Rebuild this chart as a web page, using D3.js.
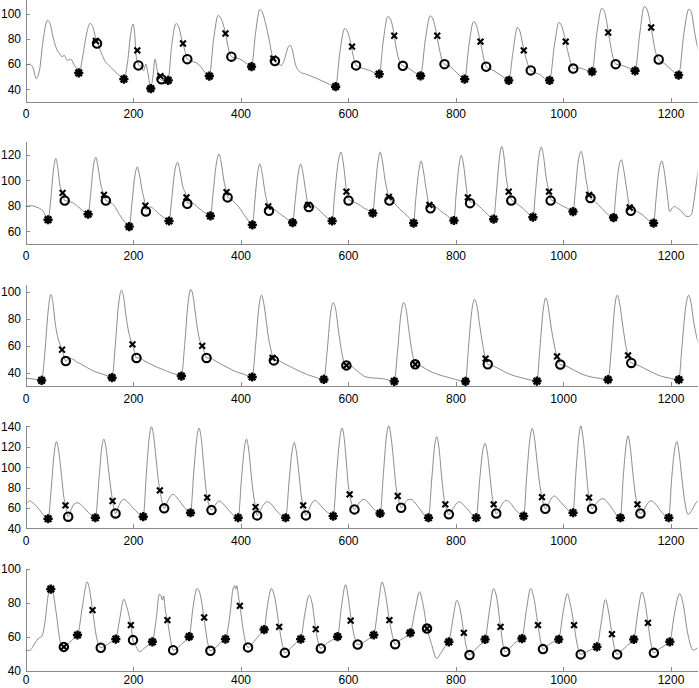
<!DOCTYPE html>
<html>
<head>
<meta charset="utf-8">
<script src="https://cdn.jsdelivr.net/npm/d3@7"></script>
<style>
  body { margin: 0; background: #fff; }
  svg { display: block; }
</style>
</head>
<body>
<svg width="699" height="688"></svg>
<script>
// sample index axis
const xTicks = [0, 200, 400, 600, 800, 1000, 1200]

// ---- panel 1 ----
const wave1 = [[0,59],[8,60],[14,57],[20,48.5],[26,55],[33,80],[41,95],[46,92],[51,82],[58,72],[64,68],[68,66],[72,67],[78,63],[84,64],[90,60],[96,56],[100,53],
  [106,65],[114,85],[120,92.5],[125,90],[130,82],[135,76],[140,70],[146,64],[160,57],[172,52],[183,48],
  [190,62],[196,85],[200,92],[203,85],[206,66],[210,60],[214,58],[220,55],[224,60],[228,52],[233,41],[237,50],[241,64],[245,55],[250,48],[255,47],[260,48],[265,47],[272,75],[280,92.5],
  [285,90],[290,81],[293,76],[297,70],[301,64],[306,63],[312,62],[318,61],[324,59],[333,54],[342,50.5],
  [350,80],[358.5,99],[363,97],[369,90],[374,80],[380,68.5],[385,65.5],[392,65],[399,64],[410,61],[420.5,58],
  [428,85],[436,103.7],[441,101],[448,90],[454,78],[458,68.5],[464,62.5],[470,60],[476,59],[482,64],[488,73],[492,75],[496,72],[502,60],[510,54],[525,51.5],[545,48],[565,44],[577,42],
  [585,70],[594,88.5],[600,85],[605,77],[610,66],[615,59],[625,57],[640,55],[658,52],
  [666,80],[674,98],[679,96],[684,88],[690,72],[696,62],[702,58.7],[712,57],[722,54],[735,50.7],
  [744,80],[753,98.7],[758,96],[764,86],[770,72],[776,62],[779.5,60],[790,58],[805,52],[817,48],
  [825,75],[833.5,94],[838,92],[844,82],[850,70],[855,60],[857,58],[870,55],[885,51],[899,47],
  [907,70],[915,89.3],[920,86],[925,76],[931,65],[936,58],[940,55],[955,52],[975,47],
  [984,75],[992.5,93.3],[997,91],[1003,82],[1009,70],[1015,60],[1019,56.5],[1030,57],[1042,55.5],[1054,54],
  [1063,85],[1072,104.5],[1077,102],[1082,92],[1088,76],[1094,64],[1098,60],[1110,59],[1122,57],[1134,54.7],
  [1143,85],[1151,106],[1156,104],[1161,96],[1166,84],[1172,70],[1178,63.7],[1190,60],[1203,55],[1215,51.2],
  [1225,85],[1234,104],[1239,101],[1245,85],[1252,70]]
const star1 = [[99,53],[183,48],[233,40.5],[265.5,47],[342,50.5],[420.5,58],[577,42],[658,52],[735,50.7],[817,48],[899,47],[975,47],[1054,54],[1134,54.7],[1215,51.2]]
const circ1 = [[133,76.5],[210,59],[253,48],[301,64],[383,66],[464,62.5],[615,59],[702,58.7],[779.5,60],[857,58],[940,55],[1019,56.5],[1098,60],[1178,63.7]]
const cross1 = [[131,78.5],[208,71],[251,50.5],[293,76.5],[372,84.5],[461,64.5],[607.5,74],[686,82.7],[766,82.7],[846.5,78],[927,71],[1005,78],[1084,85.3],[1164,89.3]]

// ---- panel 2 ----
const wave2 = [[0,79.4],[11,80],[20,79],[33,75.5],[42,69],[47,85],[52,108],[56.5,117],[60,110],[64,96],[69,90],[73,84],[80,83.5],[89,82],[97,79.5],[104,77],[110,75],[116.5,73.3],
  [121,88],[126,110],[131,118],[135,110],[140,97],[146,88.5],[149.5,84],[157,83],[165,80],[175,73],[185,67],[193,63.6],
  [198,82],[203,102],[208,110.3],[212,104],[217,92],[223,80],[224,77],[232,79],[240,77],[250,73],[260,70],[267,68],
  [272,85],[277,105],[283,114],[287,108],[292,96],[299.5,86.5],[301,82],[310,82],[320,79],[332,75],[344,72],
  [349,90],[354,110],[360,120.5],[364,114],[369,100],[374,90.6],[376,87],[385,84],[395,80],[405,74],[415,68],[422,65],
  [427,85],[431,103],[436,112.7],[440,106],[445,92],[451.5,79.4],[453,77],[462,77],[472,74],[482,71],[490,68.5],[497,66.8],
  [502,85],[507,104],[512,112.7],[516,106],[521,92],[526,80.7],[527,80],[535,80],[545,77],[555,73],[563,70],[570.5,68],
  [575,88],[581,112],[587,122],[591,114],[595,100],[597,91],[601,85],[610,83],[620,81],[630,78],[640,76],[646,74.1],
  [650,90],[655,112],[660,122],[664,115],[669,100],[674,90],[677,85],[686,82],[695,78],[705,74],[715,70],[722,66.3],
  [726,85],[731,105],[736,115],[740,108],[745,94],[750,82],[753.5,79],[762,79],[772,76],[785,72],[797,68.4],
  [801,88],[806,110],[810.5,119.5],[815,112],[819,98],[823,86.5],[827,83],[836,82],[848,78],[860,73],[871,69.4],
  [876,90],[881,115],[886,126.5],[890,119],[894,103],[899,91],[903.7,85],[913,82],[925,78],[935,74],[944,71],
  [949,92],[954,115],[959.6,126],[964,118],[968,104],[974,91],[977,85],[986,83],[998,80],[1008,78],[1018.6,75.4],
  [1023,92],[1028,114],[1034,122.6],[1038,115],[1043,100],[1048.5,88.5],[1051,86],[1060,83],[1072,78],[1084,73],[1094,70.7],
  [1098,88],[1103,108],[1108.6,116],[1113,108],[1118,94],[1124,78.6],[1126,77],[1135,76],[1147,73],[1158,69],[1168.5,66.3],
  [1173,85],[1178,106],[1184,115],[1188,108],[1193,92],[1198.6,75.4],[1203,78],[1208,79.4],[1213,78],[1217,77],[1223.5,74],[1228,72],[1233,71.5],[1239,73],[1244,85],[1248.5,99],[1252,110]]
const star2 = [[42,69],[116.5,73.3],[193,63.6],[267,68],[344,72],[422,65],[497,66.8],[570.5,68],[646,74.1],[722,66.3],[797,68.4],[871,69.4],[944,71],[1018.6,75.4],[1094,70.7],[1168.5,66.3]]
const circ2 = [[73,84],[149.5,84],[224,75.5],[301,81.5],[376,86.5],[453,76],[527,79],[601,84],[677,84],[753.5,78],[827,82],[903.7,84],[977,84],[1051,86],[1126,76]]
const cross2 = [[69,90],[146,88.5],[223,80],[299.5,86.5],[374,90.6],[451.5,79.4],[526,80.7],[597,91],[676,87],[751.5,80.7],[823,86.5],[899,91],[974,91],[1048.5,88.5],[1124,78.6]]

// ---- panel 3 ----
const wave3 = [[0,36],[10,35.5],[20.5,35],[30,34.3],[36,55],[42,85],[47,97.8],[51,92],[54.6,78.8],[58,70],[62.6,62.7],[68,57],[75,48.6],[80,50],[85.6,50.4],[95,48],[105,46],[113.5,44],[125,41.5],[135,40],[144.5,38.8],[153,37.5],[161,36.3],
  [167,60],[173,90],[178.6,101],[183,95],[187,82],[192,70],[196,64],[199,61],[203,55],[206.5,50.9],[212,51],[220,49],[232,46.5],[245,44],[258,42],[270,40],[280,38.8],[290,37.5],
  [296,60],[302,90],[307.6,101.7],[312,96],[316,84],[321,70],[325,63],[328.7,59.8],[333,55],[336.8,50.9],[343,51],[352,49],[363,46.5],[375,44],[390,41],[405,39],[421.7,36.8],
  [428,60],[434,88],[439,97.3],[443,92],[448,78],[452,66],[456,58],[459.6,52],[462,49.1],[470,49],[480,47],[495,44],[510,41],[525,38.5],[540,36.5],[555,35],
  [561,55],[567,82],[572.4,91.9],[577,87],[582,72],[587,58],[591,50],[597,45.4],[605,45],[615,42],[633.6,36.8],[650,36],[664.6,35.6],[676,34.5],[686,33.6],
  [692,55],[698,82],[703.7,91.9],[708,87],[713,72],[718,58],[722,50],[725,46.2],[735,45],[748,42],[765,39],[782,37],[800,35],[818.6,33.6],
  [824,58],[830,85],[835.4,94.3],[840,89],[845,75],[850,62],[856,50.4],[860,46.2],[870,45],[885,42],[900,39],[920,36.5],[935,35],[951.5,33.8],
  [957,58],[963,86],[967.7,95.3],[972,90],[977,76],[983,62],[988.8,52],[995,46],[1005,45],[1020,42],[1035,39],[1050,37],[1065,36],[1083.8,34.8],
  [1090,58],[1096,88],[1100.6,97.3],[1105,92],[1110,78],[1116,62],[1121,52.8],[1127,47.2],[1137,46],[1152,43],[1167,40],[1182,37.5],[1198,36],[1215.5,34.8],
  [1221,58],[1228,88],[1234,97.3],[1238,92],[1243,78],[1252,61]]
const star3 = [[30,34.3],[161,36.3],[290,37.5],[421.7,36.8],[555,35],[686,33.6],[818.6,33.6],[951.5,33.8],[1083.8,34.8],[1215.5,34.8]]
const circ3 = [[75,48.6],[206.5,50.9],[336.8,50.9],[462,49.1],[597,45.4],[725,46.2],[860,46.2],[995,46],[1127,47.2]]
const cross3 = [[68,57],[199,61],[328.7,59.8],[459.6,50.9],[597,45.4],[725,46.2],[856,50.4],[988.8,52],[1121,52.8]]

// ---- panel 4 ----
const wave4 = [[0,63.6],[8,67],[14,65],[20,62],[26.7,57.7],[34,53],[42,49.5],[48,80],[53,112],[57.7,125],[62,115],[67,92],[71,72],[74.4,62.6],[77,55],[79.4,51.5],[84,57],[89,63],[96,65.2],[104,63],[113,58],[122,53],[130,50.5],
  [137,90],[142,120],[146,127.5],[150,118],[155,95],[159,78],[162,66.9],[165,58],[167.5,54.7],[172,60],[177,66],[183,68.5],[190,66],[200,60],[210,55],[219,51.5],
  [225,95],[230,128],[234.4,139.7],[238,132],[243,108],[247,88],[250,77.4],[254,66],[258,59.7],[264,66],[270,72],[275,73.4],[282,70],[292,63],[300,58],[307,55.4],
  [313,95],[318,125],[322.5,138.4],[327,128],[331,105],[335,82],[338,70.2],[342,62],[346,58],[352,62],[357,66],[361.6,66.9],[368,64],[378,58],[387,53],[395.7,50.5],
  [402,90],[407,118],[411,127.5],[415,118],[420,92],[425,70],[428,61],[431,52.8],[437,58],[444,64],[450,66.2],[457,64],[466,58],[475,53],[484,50.5],
  [491,90],[496,116],[500,124.3],[504,115],[509,92],[513,72],[516.6,62.6],[521.6,52.8],[527,58],[533,65],[538,67.5],[545,65],[555,59],[564,55],[572.4,52.1],
  [579,95],[584,125],[589,138.4],[593,128],[597,105],[600,85],[603,73.4],[607,64],[612,58.7],[618,63],[624,67],[630,68.5],[638,65],[648,59],[659.7,54.7],
  [666,95],[671,128],[675.8,140.5],[680,130],[685,105],[689,82],[692.5,71.8],[696,64],[698.8,60.3],[705,64],[711,68],[717.4,68.5],[725,65],[735,58],[742,53],[749.7,50.5],
  [756,90],[761,120],[765,130],[769,120],[774,92],[778,72],[781,63.6],[784,57],[787.6,53.8],[794,58],[801,64],[807.5,66.2],[815,63],[825,57],[832,53],[838.5,50.5],
  [845,88],[850,114],[855,123.3],[859,115],[864,92],[868,72],[871,63.6],[873,58],[875.8,54.7],[882,59],[888,65],[894.4,67.5],[902,65],[912,58],[920,54],[926.7,52.1],
  [933,95],[938,126],[942.8,138],[947,128],[952,104],[957,82],[960.8,70.8],[964,63],[967,59.3],[973,64],[979,70],[984.4,71.8],[992,68],[1002,62],[1010,58],[1018.6,55.4],
  [1024,95],[1029,128],[1033,140.5],[1037,130],[1042,104],[1046,80],[1048.4,70.2],[1051,63],[1054,59.3],[1061,64],[1068,68],[1074.5,69.2],[1082,66],[1092,59],[1100,53],[1106.8,50.5],
  [1112,90],[1117,120],[1121,130.8],[1125,120],[1130,94],[1135,72],[1138.4,63.6],[1141,57],[1144,54.7],[1151,59],[1158,65],[1164.5,66.9],[1172,64],[1182,57],[1190,52.5],[1196.8,50.5],
  [1202,88],[1207,115],[1212,125],[1216,114],[1221,90],[1226,68],[1232.8,53.8],[1240,58],[1246,64],[1252,68.5]]
const star4 = [[42,49.5],[130,50.5],[219,51.5],[307,55.4],[395.7,50.5],[484,50.5],[572.4,52.1],[659.7,54.7],[749.7,50.5],[838.5,50.5],[926.7,52.1],[1018.6,55.4],[1106.8,50.5],[1196.8,50.5]]
const circ4 = [[79.4,51.5],[167.5,54.7],[258,59.7],[346,58],[431,52.8],[521.6,52.8],[612,58.7],[698.8,60.3],[787.6,53.8],[875.8,54.7],[967,59.3],[1054,59.3],[1144,54.7]]
const cross4 = [[74.4,62.6],[162,66.9],[250,77.4],[338,70.2],[428,61],[516.6,62.6],[603,73.4],[692.5,71.8],[781,63.6],[871,63.6],[960.8,70.8],[1048.4,70.2],[1138.4,63.6]]

// ---- panel 5 ----
const wave5 = [[0,52],[8,52],[17,56],[25,59.3],[30,60],[36,68],[42,84],[46.5,89],[51,86],[58,72],[64,58],[71,54],[80,56],[90,59],[97,61],[106,78],[114.7,92.2],[119,88],[124.7,75.6],[132,60],[140,53.5],[150,55],[160,57],[168,58.6],[175,70],[183,82],[188,78],[196,66.8],[200,58],[206,54],[212.7,51.1],[220,53],[228,55],[236,57],[243,70],[249,85],[252,84],[255,81.5],[257,84],[260,76],[264,69.7],[270,58],[275,52.1],[285,54],[295,57],[304.5,60],[312,78],[319,88.3],[324,86],[332,71.3],[338,58],[344,51.7],[355,54],[365,57],[372,58.6],[380,72],[386,88],[389,90],[391,88],[393,90],[396,84],[399,78],[406,62],[414,53.7],[425,57],[435,61],[444,64.2],[450,78],[457.7,88.3],[463,84],[472,66],[478,55],[482.5,50.5],[492,53],[502,56],[512,58.6],[520,74],[527.8,84.4],[533,80],[540,64.4],[545,56],[549.5,53.1],[560,56],[570,58],[580.5,60],[588,78],[595.4,90.6],[600,84],[606,70],[612,60],[618,55.4],[630,57],[640,59],[648,61],[656,78],[663.4,92.2],[669,86],[677,69.7],[683,60],[687.6,55.6],[697,58],[708,60],[716,62.3],[725,76],[733,86.3],[739,80],[747,65],[755,56],[765,47.2],[772,50],[780,54],[787.6,57],[795,70],[802.5,81.4],[808,77],[815.5,62.3],[820,54],[826,49.2],[835,52],[845,55],[855,58.4],[863,75],[870.8,88.3],[876,84],[883.8,65.8],[888,56],[892.5,51.1],[903,54],[913,57],[923.6,58.9],[932,76],[939.7,88.3],[945,84],[953.4,66.8],[958,58],[962.7,52.7],[972,55],[982,57],[992,58.4],[1000,74],[1008,85.3],[1013,80],[1020.5,66.8],[1026,56],[1033,49.6],[1043,51],[1053,52.5],[1063,54],[1071,68],[1078.8,81.8],[1084,76],[1091,61.5],[1096,53],[1100.6,49.6],[1110,52],[1120,55],[1131.6,58.4],[1139,74],[1147,86.3],[1152,81],[1158,68.1],[1163,57],[1169,50.5],[1180,53],[1190,55],[1198.7,57],[1207,73],[1217,85.3],[1223,80],[1232,62],[1242,52.1],[1252,54]]
const star5 = [[47,88],[96.7,61],[168,58.6],[236,57],[304.5,60],[372,58.6],[444,64.2],[512,58.6],[580.5,60],[647.9,61],[716,62.3],[787.6,57],[855,58.4],[923.6,58.9],[992,58.4],[1063,54],[1131.6,58.4],[1198.7,57]]
const circ5 = [[71.3,54],[140,53.5],[200,58],[274.7,52.1],[344,51.7],[414,53.7],[482.5,50.5],[549.5,53.1],[618,55.4],[687.6,55.6],[747,64.8],[826,49.2],[892.5,51.1],[962.7,52.7],[1032.9,49.6],[1100.6,49.6],[1169,50.5]]
const cross5 = [[71.3,54],[124.7,75.6],[196,66.8],[264,69.7],[332.4,71.3],[398.8,78.1],[472,65.8],[540,64.4],[605,69.5],[677,69.7],[747,64.8],[815.5,62.3],[883.8,65.8],[953.4,66.8],[1020.5,66.8],[1091,61.5],[1158,68.1]]

const yTicks1 = [40, 60, 80, 100]
const yTicks2 = [60, 80, 100, 120]
const yTicks3 = [40, 60, 80, 100]
const yTicks4 = [40, 60, 80, 100, 120, 140]
const yTicks5 = [40, 60, 80, 100]

const panels = [
  { wave: wave1, star: star1, circ: circ1, cross: cross1, yDomain: [30, 111.5], yTicks: yTicks1 },
  { wave: wave2, star: star2, circ: circ2, cross: cross2, yDomain: [50, 130], yTicks: yTicks2 },
  { wave: wave3, star: star3, circ: circ3, cross: cross3, yDomain: [30, 105.5], yTicks: yTicks3 },
  { wave: wave4, star: star4, circ: circ4, cross: cross4, yDomain: [40, 140], yTicks: yTicks4 },
  { wave: wave5, star: star5, circ: circ5, cross: cross5, yDomain: [40, 100], yTicks: yTicks5 }
]

const svg = d3.select("svg")
const left = 25.5
const right = 697.4
const panelH = 102
const firstBottom = 101.7
const step = 142.25

const x = d3.scaleLinear().domain([0, 1250]).range([left, right])

svg.append("clipPath").attr("id", "clip")
  .append("rect").attr("x", left).attr("y", -20).attr("width", right - left).attr("height", 740)

const starPath = (r) => {
  const d = r * Math.SQRT1_2
  return `M${-r},0L${r},0M0,${-r}L0,${r}M${-d},${-d}L${d},${d}M${-d},${d}L${d},${-d}`
}
const crossPath = (r) => `M${-r},${-r}L${r},${r}M${-r},${r}L${r},${-r}`

panels.forEach((p, i) => {
  const bottom = firstBottom + step * i
  const y = d3.scaleLinear().domain(p.yDomain).range([bottom, bottom - panelH])
  const g = svg.append("g")

  // the last row's labels sit a bit tighter so they stay inside the frame
  const xPad = i === panels.length - 1 ? 4.8 : 8
  const xAxis = d3.axisBottom(x).tickValues(xTicks).tickFormat(d3.format("d"))
    .tickSizeInner(-4).tickSizeOuter(0).tickPadding(xPad)
  const yAxis = d3.axisLeft(y).tickValues(p.yTicks).tickFormat(d3.format("d"))
    .tickSizeInner(-4).tickSizeOuter(0).tickPadding(4.5)

  const gx = g.append("g").attr("transform", `translate(0,${bottom})`).call(xAxis)
  const gy = g.append("g").attr("transform", `translate(${left},0)`).call(yAxis)
  ;[gx, gy].forEach((a) => {
    a.selectAll("path, line").attr("stroke", "#8a8a8a").attr("shape-rendering", "crispEdges")
    a.selectAll("text").attr("font-family", "'Liberation Sans', Arial, sans-serif")
      .attr("font-size", 12).attr("fill", "#000")
  })

  const line = d3.line().x((d) => x(d[0])).y((d) => y(d[1])).curve(d3.curveMonotoneX)
  g.append("path").datum(p.wave)
    .attr("clip-path", "url(#clip)")
    .attr("d", line)
    .attr("fill", "none")
    .attr("stroke", "#6e6e6e")
    .attr("stroke-width", 0.8)

  g.selectAll(".star").data(p.star).enter().append("path")
    .attr("transform", (d) => `translate(${x(d[0])},${y(d[1])})`)
    .attr("d", starPath(4.6))
    .attr("fill", "none").attr("stroke", "#000").attr("stroke-width", 2.4)

  g.selectAll(".circ").data(p.circ).enter().append("circle")
    .attr("cx", (d) => x(d[0])).attr("cy", (d) => y(d[1])).attr("r", 4.2)
    .attr("fill", "none").attr("stroke", "#000").attr("stroke-width", 2.1)

  g.selectAll(".cross").data(p.cross).enter().append("path")
    .attr("transform", (d) => `translate(${x(d[0])},${y(d[1])})`)
    .attr("d", crossPath(2.9))
    .attr("fill", "none").attr("stroke", "#000").attr("stroke-width", 2.1)
})
</script>
</body>
</html>
